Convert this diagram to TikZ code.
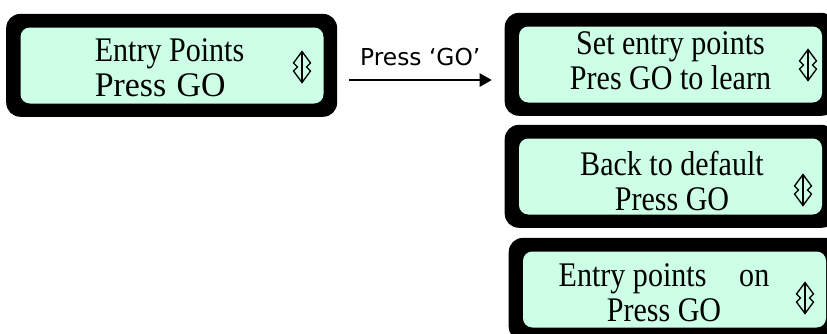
\documentclass[tikz,border=0pt]{standalone}
\usepackage{fontspec}
\setmainfont{Liberation Serif}
\newfontfamily\lcdfont[FakeStretch=0.87]{Liberation Serif}
\newfontfamily\lcdwide[FakeStretch=0.98]{Liberation Serif}
\newfontfamily\labelfont{DejaVu Sans}
\usetikzlibrary{arrows.meta, calc, backgrounds}
\definecolor{lcdgreen}{RGB}{204,255,230}
\tikzset{
  screen/.style={fill=lcdgreen, rounded corners=7pt, minimum width=227.25pt,
    minimum height=57pt, inner sep=0pt},
  screentext/.style={align=center, inner sep=0pt,
    font=\lcdfont\fontsize{25.9}{26.25}\selectfont},
  bezel/.style={fill=black, rounded corners=10.5pt},
  flow/.style={-{Triangle[length=9pt,width=10pt]}, line width=1.1pt},
  updown/.pic={
    \draw[line width=1pt] (0,-15.5) -- (0,15.5);
    \draw[line width=1pt] (-8.5,-4) -- (0,-15.5) -- (8.5,-4) -- (4.5,0) -- (8.5,4)
      -- (0,15.5) -- (-8.5,4) -- (-4.5,0) -- cycle;
  }
}

\begin{document}
\begin{tikzpicture}[x=0.75pt, y=-0.75pt]
    \useasboundingbox (0,0) rectangle (827,333);

    % ;- screens ;-
    \node[screen] (entry)   at (172,65.5)   {};
    \node[screen] (setpts)  at (670.5,64.5) {};
    \node[screen] (default) at (670.5,176.5) {};
    \node[screen] (onoff)   at (674.5,289.5) {};

    % black frames behind the screens
    \begin{scope}[on background layer]
        \foreach \s in {entry,setpts,default,onoff}{
            \fill[bezel] ([shift={(-10.5pt,10pt)}]\s.north west)
                rectangle ([shift={(10pt,-9.75pt)}]\s.south east);
        }
    \end{scope}

    % ;- screen texts ;-
    \node[screentext, align=left] (entrytxt) at (169.5,67.5)
        {Entry Points\\{\lcdwide\fontsize{25.9}{26.25}\selectfont Press\hspace{0.3em}GO}};
    \node[screentext] (setptstxt)  at (670.5,60.5) {Set entry points\\Pres GO to learn};
    \node[screentext] (defaulttxt) at (672,181)   {Back to default\\Press GO};
    \node[screentext] (onofftxt)   at (664,293)   {Entry points\hspace{0.95em}on\\Press GO};

    % scroll marks
    \pic at (302,67)  {updown};
    \pic at (808,65)  {updown};
    \pic at (803,190) {updown};
    \pic at (805,298) {updown};

    % ;- transition ;-
    \draw[flow] ([shift={(18.75pt,-10.9pt)}]entry.east)
        -- ($(entry.east -| setpts.west)+(-20.25pt,-10.9pt)$)
        node[midway, above=9.75pt, inner sep=0pt,
             font=\labelfont\fontsize{17.5}{20}\selectfont] (golabel) {Press ‘GO’};

\end{tikzpicture}
\end{document}
